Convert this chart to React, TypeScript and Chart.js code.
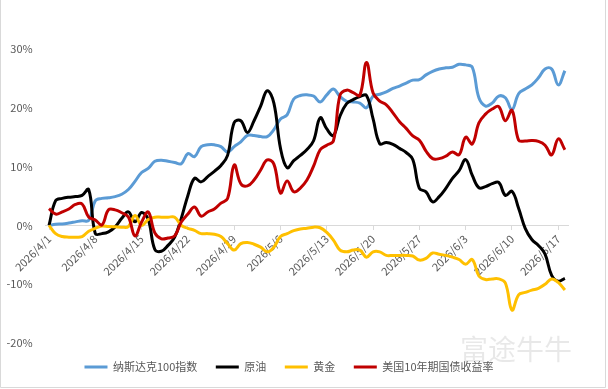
import React, { useEffect, useRef } from 'react';
import { Chart, registerables } from 'chart.js';

Chart.register(...registerables);

// x = days since 2026/4/1 (index of each array)
const TICK_DAYS = [0, 7, 14, 21, 28, 35, 42, 49, 56, 63, 70, 77];
const TICK_LABELS = [
  '2026/4/1', '2026/4/8', '2026/4/15', '2026/4/22', '2026/4/29', '2026/5/6',
  '2026/5/13', '2026/5/20', '2026/5/27', '2026/6/3', '2026/6/10', '2026/6/17',
];

const SERIES_NAMES = ['纳斯达克100指数', '原油', '黄金', '美国10年期国债收益率'];

// % change (left axis)
const NASDAQ = [
  0.0, 0.2, 0.25, 0.4, 0.6, 0.8, 0.85, 4.2, 4.6, 4.7,
  4.9, 5.3, 6.1, 7.5, 9.0, 9.7, 10.9, 11.1, 10.9, 10.7,
  10.5, 12.2, 11.7, 13.4, 13.7, 13.7, 13.4, 12.5, 13.4, 14.2,
  15.3, 15.3, 15.1, 15.1, 16.3, 18.1, 18.8, 21.5, 22.1, 22.2,
  22.0, 21.0, 22.2, 23.2, 21.9, 21.1, 21.0, 20.8, 20.0, 22.0,
  22.3, 22.7, 23.3, 23.7, 24.2, 24.7, 24.8, 25.6, 26.2, 26.6,
  26.8, 26.9, 27.4, 27.3, 26.9, 21.7, 20.3, 20.8, 22.0, 21.7,
  19.7, 22.4, 23.2, 23.9, 25.1, 26.6, 26.6, 23.9, 26.3,
];

const OIL = [
  0.0, 4.2, 4.6, 4.8, 4.9, 5.1, 6.1, -1.4, -1.4, -1.1,
  -0.25, 1.2, 2.3, 0.6, 2.2, 1.0, -4.1, -4.4, -3.4, -2.0,
  1.2, 5.1, 8.0, 7.4, 8.3, 9.2, 10.2, 11.9, 17.5, 17.8,
  15.8, 17.8, 20.3, 22.9, 20.8, 13.1, 9.8, 11.0, 11.9, 12.9,
  14.4, 18.3, 16.4, 15.3, 18.6, 20.7, 21.4, 21.9, 22.1, 18.1,
  13.9, 14.1, 13.8, 13.1, 12.4, 11.2, 6.3, 5.7, 4.0, 4.9,
  6.3, 8.0, 9.3, 11.2, 8.5, 6.4, 6.6, 7.1, 7.3, 5.1,
  5.8, 2.9, -0.5, -2.4, -3.4, -4.9, -8.5, -9.5, -9.0,
];

const GOLD = [
  0.0, -1.4, -1.9, -2.0, -2.0, -1.9, -1.0, -0.5, -0.1, -0.2,
  -0.25, -0.3, -0.2, 1.7, 0.0, 1.0, 1.4, 1.4, 1.4, 1.4,
  0.0, -0.5, -0.85, -1.4, -1.4, -1.5, -1.9, -3.1, -4.2, -3.1,
  -2.9, -3.2, -3.7, -4.5, -3.7, -1.9, -1.4, -0.9, -0.6, -0.5,
  -0.3, -0.4, -1.2, -2.5, -4.2, -4.5, -4.2, -4.2, -5.4, -4.5,
  -4.5, -5.1, -5.1, -5.1, -5.1, -5.2, -5.9, -5.6, -4.7, -4.9,
  -5.1, -5.4, -5.8, -6.6, -5.8, -8.6, -9.2, -9.1, -9.1, -9.8,
  -14.4, -11.8, -11.4, -11.0, -10.7, -10.0, -9.1, -9.7, -11.0,
];

// yield (right axis)
const UST10Y = [
  4.320, 4.307, 4.312, 4.319, 4.330, 4.331, 4.300, 4.293, 4.281, 4.317,
  4.317, 4.310, 4.300, 4.255, 4.288, 4.312, 4.262, 4.248, 4.250, 4.255,
  4.288, 4.307, 4.324, 4.302, 4.312, 4.319, 4.333, 4.344, 4.424, 4.379,
  4.374, 4.388, 4.412, 4.436, 4.426, 4.357, 4.386, 4.360, 4.369, 4.388,
  4.421, 4.460, 4.471, 4.481, 4.590, 4.602, 4.596, 4.590, 4.668, 4.595,
  4.576, 4.567, 4.548, 4.527, 4.511, 4.493, 4.483, 4.457, 4.439, 4.439,
  4.445, 4.455, 4.448, 4.490, 4.474, 4.524, 4.545, 4.557, 4.563, 4.529,
  4.554, 4.483, 4.481, 4.482, 4.480, 4.471, 4.448, 4.486, 4.460,
];

const COLORS = ['#5B9BD5', '#000000', '#FFC000', '#C00000'];
const FONT_FAMILY = '"Noto Sans CJK SC", "Noto Sans", sans-serif';
const TEXT_COLOR = '#595959';

const toPoints = (arr: number[]) => arr.map((y, i) => ({ x: i, y }));

const framePlugin = {
  id: 'frame',
  beforeDraw(chart: any) {
    const { ctx, width, height } = chart;
    ctx.save();
    ctx.fillStyle = '#ffffff';
    ctx.fillRect(0, 0, width, height);
    ctx.restore();
  },
  afterDraw(chart: any) {
    const { ctx } = chart;
    ctx.save();
    ctx.fillStyle = 'rgba(0,0,0,0.09)';
    ctx.font = '28px ' + FONT_FAMILY;
    ctx.textBaseline = 'middle';
    ctx.fillText('富途牛牛', 460, 349);
    ctx.strokeStyle = '#d9d9d9';
    ctx.lineWidth = 1;
    ctx.beginPath();
    ctx.moveTo(0.5, 0);
    ctx.lineTo(0.5, 387.5);
    ctx.lineTo(605.5, 387.5);
    ctx.lineTo(605.5, 0);
    ctx.stroke();
    ctx.restore();
  },
};

export default function App() {
  const canvasRef = useRef<HTMLCanvasElement | null>(null);

  useEffect(() => {
    if (!canvasRef.current) return;
    const seriesData = [NASDAQ, OIL, GOLD, UST10Y];
    const axes = ['y', 'y', 'y', 'y1'];
    const orders = [4, 3, 2, 1];
    const chart = new Chart(canvasRef.current, {
      type: 'line',
      data: {
        datasets: seriesData.map((arr, i) => ({
          label: SERIES_NAMES[i],
          data: toPoints(arr),
          borderColor: COLORS[i],
          backgroundColor: COLORS[i],
          borderWidth: 3,
          pointRadius: 0,
          pointHoverRadius: 0,
          tension: 0.4,
          fill: false,
          yAxisID: axes[i],
          order: orders[i],
        })),
      },
      options: {
        animation: false,
        responsive: true,
        maintainAspectRatio: false,
        layout: { padding: { top: 49, right: 30, bottom: 6.5, left: 0 } },
        plugins: {
          tooltip: { enabled: false },
          legend: {
            position: 'bottom',
            labels: {
              boxWidth: 23,
              boxHeight: 3,
              padding: 18.5,
              color: TEXT_COLOR,
              font: { family: FONT_FAMILY, size: 11 },
              generateLabels: (c: any) =>
                c.data.datasets.map((ds: any, i: number) => ({
                  text: ds.label,
                  fillStyle: ds.borderColor,
                  strokeStyle: ds.borderColor,
                  lineWidth: 0,
                  hidden: false,
                  datasetIndex: i,
                  fontColor: TEXT_COLOR,
                })),
            },
          },
        },
        scales: {
          x: {
            type: 'linear',
            position: { y: 0 } as any,
            min: -0.5,
            max: 78.5,
            afterBuildTicks: (s: any) => {
              s.ticks = TICK_DAYS.map((v) => ({ value: v }));
            },
            ticks: {
              autoSkip: false,
              minRotation: 45,
              maxRotation: 45,
              padding: 3,
              color: TEXT_COLOR,
              font: { family: FONT_FAMILY, size: 11 },
              callback: (_v: any, i: number) => TICK_LABELS[i] ?? '',
            },
            grid: { drawOnChartArea: false, drawTicks: true, tickLength: 4, color: '#d9d9d9' },
            border: { display: true, color: '#d9d9d9', width: 1 },
          },
          y: {
            position: 'left',
            min: -20,
            max: 30,
            ticks: {
              stepSize: 10,
              padding: 13,
              color: TEXT_COLOR,
              font: { family: FONT_FAMILY, size: 11 },
              callback: (v: any) => v + '%',
            },
            grid: { display: false, drawTicks: false },
            border: { display: false },
            afterFit: (s: any) => {
              s.width = 45.7;
            },
          },
          y1: {
            position: 'right',
            min: 4.0,
            max: 4.7,
            ticks: {
              stepSize: 0.1,
              padding: 14,
              color: TEXT_COLOR,
              font: { family: FONT_FAMILY, size: 11 },
              callback: (v: any) => String(Number(Number(v).toFixed(1))),
            },
            grid: { display: false, drawTicks: false },
            border: { display: false },
            afterFit: (s: any) => {
              s.width = 9.8;
            },
          },
        },
      },
      plugins: [framePlugin],
    } as any);
    return () => chart.destroy();
  }, []);

  return (
    <div style={{ position: 'absolute', left: 0, top: 0, width: 608, height: 389 }}>
      <canvas ref={canvasRef} />
    </div>
  );
}
